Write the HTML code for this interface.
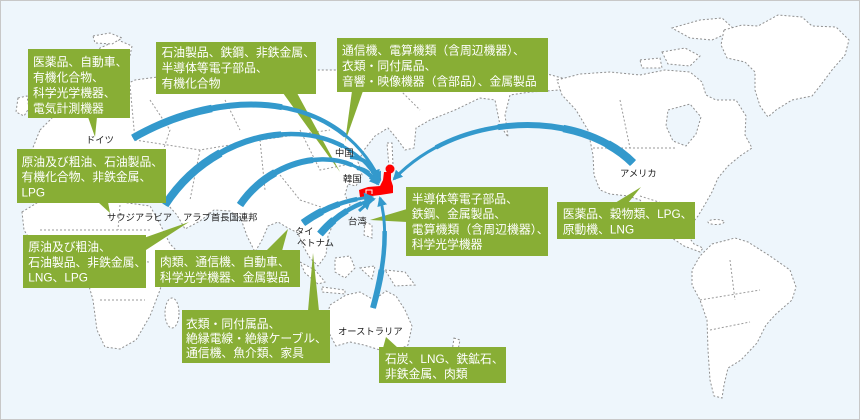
<!DOCTYPE html>
<html><head><meta charset="utf-8">
<style>
html,body{margin:0;padding:0;background:#fff;}
body{width:860px;height:420px;overflow:hidden;}
svg{display:block;}
.land{fill:#fff;stroke:#8f8f8f;stroke-width:1;stroke-dasharray:2 2;}
.sea{fill:#eef6fc;stroke:#8f8f8f;stroke-width:1;stroke-dasharray:2 2;}
.bd{fill:none;stroke:#9a9a9a;stroke-width:1;stroke-dasharray:2 2;}
.a{fill:none;stroke:#3399cc;stroke-linecap:butt;}
.g{fill:#88ae35;}
.bt{font-family:"Liberation Sans","Noto Sans CJK JP",sans-serif;font-size:11.8px;fill:#fff;}
.lb{font-family:"Liberation Sans","Noto Sans CJK JP",sans-serif;font-size:9.3px;fill:#222;}
</style></head>
<body>
<svg width="860" height="420" viewBox="0 0 860 420" xmlns="http://www.w3.org/2000/svg">
<defs>
<marker id="ah" viewBox="0 0 10 10" refX="8" refY="5" markerWidth="10" markerHeight="10" markerUnits="userSpaceOnUse" orient="auto">
<path d="M0,0 L10,5 L0,10 z" fill="#3399cc"/>
</marker>
</defs>
<rect x="0.5" y="0.5" width="859" height="419" fill="#eef6fc" stroke="#c8c8c8"/>

<!-- Land -->
<path class="land" d="M40,130 L55,115 L80,102 L110,92 L135,80 L180,74 L230,72 L290,70 L336,70 L400,70 L450,66 L500,70 L540,72 L562,78 L560,90 L530,92 L510,95 L505,115 L508,137 L500,125 L495,100 L480,98 L455,110 L430,120 L416,128 L414,148 L405,150 L398,140 L388,128 L375,136 L364,150 L358,162 L362,175 L356,186 L348,184 L345,195 L350,205 L344,215 L334,222 L328,236 L326,255 L318,266 L310,258 L303,246 L298,233 L288,228 L278,222 L268,226 L262,240 L255,252 L247,236 L241,219 L230,211 L214,210 L200,221 L185,229 L177,215 L168,205 L158,197 L143,194 L120,190 L95,186 L72,192 L50,200 L30,196 L24,176 L30,155 Z"/>
<path class="land" d="M88,70 L100,48 L118,40 L132,46 L128,65 L118,82 L105,92 L92,88 Z"/>
<path class="land" d="M18,98 L27,96 L29,108 L24,116 L16,112 Z"/>
<path class="land" d="M93,36 L110,33 L122,38 L112,44 L95,43 Z"/>
<path class="land" d="M22,212 L40,201 L70,199 L100,199 L128,203 L150,206 L160,224 L170,244 L176,250 L166,266 L160,290 L150,316 L136,340 L120,349 L105,347 L97,330 L93,300 L85,272 L70,259 L50,255 L34,246 L24,230 Z"/>
<ellipse class="land" cx="172" cy="313" rx="7" ry="15"/>
<path class="land" d="M300,262 L315,270 L325,282 L318,284 L305,273 Z"/>
<path class="land" d="M335,258 L350,256 L355,268 L345,278 L335,272 Z"/>
<path class="land" d="M322,287 L345,290 L345,294 L322,292 Z"/>
<path class="land" d="M360,268 L375,266 L372,279 Z"/>
<path class="land" d="M385,270 L405,272 L415,285 L395,286 Z"/>
<path class="land" d="M365,222 L372,225 L372,238 L364,235 Z"/>
<path class="land" d="M330,305 L346,295 L360,292 L374,300 L386,291 L396,296 L405,310 L412,326 L408,345 L395,352 L380,350 L364,345 L350,342 L336,346 L328,331 L327,316 Z"/>
<path class="land" d="M454,338 L460,340 L458,350 L452,352 Z"/>
<path class="land" d="M387,143 L392,143 L393,165 L389,167 Z"/>
<path class="land" d="M557,80 L580,74 L610,72 L640,75 L665,70 L690,72 L702,82 L706,95 L716,100 L736,100 L746,116 L745,135 L752,148 L740,156 L728,166 L718,178 L712,192 L704,206 L698,216 L690,226 L688,236 L694,244 L703,248 L700,252 L684,246 L672,238 L662,226 L650,212 L640,200 L628,196 L610,194 L600,190 L594,175 L593,155 L588,130 L576,110 L562,95 Z"/>
<path class="sea" d="M668,110 L690,104 L701,117 L696,134 L686,146 L673,141 L666,126 Z"/>
<path class="land" d="M662,52 L685,48 L700,56 L690,66 L668,64 Z"/>
<path class="land" d="M672,28 L700,20 L722,18 L735,30 L712,40 L690,38 Z"/>
<path class="land" d="M640,60 L660,58 L662,68 L642,68 Z"/>
<path class="land" d="M724,30 L742,25 L758,26 L778,15 L802,17 L812,26 L836,27 L849,40 L845,55 L832,70 L820,86 L812,96 L792,100 L776,110 L768,117 L760,106 L755,90 L755,72 L745,62 L727,58 L721,45 Z"/>
<ellipse class="land" cx="716" cy="222" rx="8" ry="2.5"/>
<path class="land" d="M712,244 L735,238 L748,242 L770,256 L790,270 L796,287 L792,300 L776,314 L766,325 L757,343 L741,360 L728,368 L724,385 L722,398 L714,396 L710,380 L708,350 L707,320 L700,300 L692,285 L692,270 L700,256 Z"/>

<!-- internal borders -->
<path class="bd" d="M130,85 L135,140 M135,140 L200,150 L260,140 L330,130 M260,140 L265,190 M200,150 L190,200 M300,130 L320,170 L345,165 M280,175 L300,200 L330,210 M150,100 L170,130 L160,160 M60,150 L100,160 L130,150 M225,100 L240,130 M400,90 L420,110"/>
<path class="bd" d="M40,230 L150,230 M95,260 L150,262 M100,300 L145,300 M120,205 L118,230"/>
<path class="bd" d="M593,148 L677,148 M640,196 L690,212 M620,100 L630,148 M700,300 L760,290 M710,330 L750,322 M730,260 L735,300"/>

<!-- Japan -->
<circle cx="390" cy="169" r="4.5" fill="#f00"/>
<path d="M384,172 L391,172 L391,180 L393,186 L393,193 L380,195 L372,196 L365,197 L360,197 L359,190 L368,187 L380,186 L383,180 Z" fill="#f00"/>
<path d="M366,194 L366,190 L372,190 L372,194" fill="none" stroke="#fff" stroke-width="1"/>

<!-- tails -->
<polygon class="g" points="88,117 97,117 95,137"/>
<polygon class="g" points="283,93 297,93 340,172"/>
<polygon class="g" points="352,91 363,91 345,142"/>
<polygon class="g" points="98,202 108,202 110,213"/>
<polygon class="g" points="138,240 146,250 189,222"/>
<polygon class="g" points="266,251 282,251 288,229"/>
<polygon class="g" points="308,311 319,311 313,253"/>
<polygon class="g" points="407,209 407,222 370,220"/>
<polygon class="g" points="615,203 628,203 641,187"/>
<polygon class="g" points="383,348 398,348 386,337"/>

<!-- arrows -->
<g>
<path class="a" d="M133,138 C220,88 335,88 380,180" pathLength="100" stroke-width="3" marker-end="url(#ah)"/>
<path class="a" d="M133,138 C220,88 335,88 380,180" pathLength="100" stroke-width="4.5" stroke-dasharray="80 200"/>
<path class="a" d="M133,138 C220,88 335,88 380,180" pathLength="100" stroke-width="6" stroke-dasharray="55 200"/>
<path class="a" d="M133,138 C220,88 335,88 380,180" pathLength="100" stroke-width="7.5" stroke-dasharray="30 200"/>

<path class="a" d="M165,205 C220,120 340,110 379,182" pathLength="100" stroke-width="3" marker-end="url(#ah)"/>
<path class="a" d="M165,205 C220,120 340,110 379,182" pathLength="100" stroke-width="4.5" stroke-dasharray="80 200"/>
<path class="a" d="M165,205 C220,120 340,110 379,182" pathLength="100" stroke-width="6" stroke-dasharray="55 200"/>
<path class="a" d="M165,205 C220,120 340,110 379,182" pathLength="100" stroke-width="8" stroke-dasharray="30 200"/>

<path class="a" d="M240,205 C270,160 340,140 378,184" pathLength="100" stroke-width="3" marker-end="url(#ah)"/>
<path class="a" d="M240,205 C270,160 340,140 378,184" pathLength="100" stroke-width="4.5" stroke-dasharray="80 200"/>
<path class="a" d="M240,205 C270,160 340,140 378,184" pathLength="100" stroke-width="6" stroke-dasharray="55 200"/>
<path class="a" d="M240,205 C270,160 340,140 378,184" pathLength="100" stroke-width="7.5" stroke-dasharray="30 200"/>

<path class="a" d="M350,157 Q370,158 378,178" pathLength="100" stroke-width="2.5" marker-end="url(#ah)"/>
<path class="a" d="M350,157 Q370,158 378,178" pathLength="100" stroke-width="4" stroke-dasharray="50 200"/>

<path class="a" d="M357,168 Q370,170 377,183" pathLength="100" stroke-width="2.5" marker-end="url(#ah)"/>
<path class="a" d="M357,168 Q370,170 377,183" pathLength="100" stroke-width="4" stroke-dasharray="50 200"/>

<path class="a" d="M633,163 C580,110 460,110 394,179" pathLength="100" stroke-width="3" marker-end="url(#ah)"/>
<path class="a" d="M633,163 C580,110 460,110 394,179" pathLength="100" stroke-width="4.5" stroke-dasharray="80 200"/>
<path class="a" d="M633,163 C580,110 460,110 394,179" pathLength="100" stroke-width="6" stroke-dasharray="55 200"/>
<path class="a" d="M633,163 C580,110 460,110 394,179" pathLength="100" stroke-width="7.5" stroke-dasharray="30 200"/>
<path class="a" d="M633,163 C580,110 460,110 394,179" pathLength="100" stroke-width="8.5" stroke-dasharray="12 200"/>

<path class="a" d="M303,223 Q335,200 372,197" pathLength="100" stroke-width="3" marker-end="url(#ah)"/>
<path class="a" d="M303,223 Q335,200 372,197" pathLength="100" stroke-width="4.5" stroke-dasharray="80 200"/>
<path class="a" d="M303,223 Q335,200 372,197" pathLength="100" stroke-width="6" stroke-dasharray="55 200"/>
<path class="a" d="M303,223 Q335,200 372,197" pathLength="100" stroke-width="7.5" stroke-dasharray="30 200"/>

<path class="a" d="M320,234 Q342,208 374,199" pathLength="100" stroke-width="3" marker-end="url(#ah)"/>
<path class="a" d="M320,234 Q342,208 374,199" pathLength="100" stroke-width="4.5" stroke-dasharray="80 200"/>
<path class="a" d="M320,234 Q342,208 374,199" pathLength="100" stroke-width="6" stroke-dasharray="55 200"/>
<path class="a" d="M320,234 Q342,208 374,199" pathLength="100" stroke-width="7.5" stroke-dasharray="30 200"/>

<path class="a" d="M359,211 L370,201" pathLength="100" stroke-width="3" marker-end="url(#ah)"/>

<path class="a" d="M373,308 Q392,240 380,198" pathLength="100" stroke-width="3" marker-end="url(#ah)"/>
<path class="a" d="M373,308 Q392,240 380,198" pathLength="100" stroke-width="4.5" stroke-dasharray="70 200"/>
<path class="a" d="M373,308 Q392,240 380,198" pathLength="100" stroke-width="6" stroke-dasharray="35 200"/>
</g>

<!-- boxes -->
<rect class="g" x="28" y="49" width="102" height="69"/>
<rect class="g" x="156" y="42" width="160" height="52"/>
<rect class="g" x="337" y="38" width="211" height="54"/>
<rect class="g" x="17" y="149" width="149" height="54"/>
<rect class="g" x="23" y="235" width="123" height="53"/>
<rect class="g" x="155" y="250" width="145" height="37"/>
<rect class="g" x="182" y="310" width="148" height="53"/>
<rect class="g" x="406" y="187" width="142" height="69"/>
<rect class="g" x="557" y="202" width="138" height="37"/>
<rect class="g" x="379" y="347" width="127" height="36"/>

<!-- box text -->
<g class="bt">
<text x="33" y="66.2">医薬品、自動車、</text>
<text x="33" y="81.7">有機化合物、</text>
<text x="33" y="97.2">科学光学機器、</text>
<text x="33" y="112.7">電気計測機器</text>

<text x="161.5" y="56.5">石油製品、鉄鋼、非鉄金属、</text>
<text x="161.5" y="72">半導体等電子部品、</text>
<text x="161.5" y="87.5">有機化合物</text>

<text x="342" y="54.5">通信機、電算機類（含周辺機器）、</text>
<text x="342" y="70">衣類・同付属品、</text>
<text x="342" y="85.5">音響・映像機器（含部品）、金属製品</text>

<text x="21.5" y="166">原油及び粗油、石油製品、</text>
<text x="21.5" y="181.2">有機化合物、非鉄金属、</text>
<text x="21.5" y="196.3">LPG</text>

<text x="28.3" y="251.2">原油及び粗油、</text>
<text x="28.3" y="266.4">石油製品、非鉄金属、</text>
<text x="28.3" y="281.7">LNG、LPG</text>

<text x="160" y="266.2">肉類、通信機、自動車、</text>
<text x="160" y="281.7">科学光学機器、金属製品</text>

<text x="186" y="327.8">衣類・同付属品、</text>
<text x="186" y="342.5">絶縁電線・絶縁ケーブル、</text>
<text x="186" y="357.2">通信機、魚介類、家具</text>

<text x="411.7" y="202.8">半導体等電子部品、</text>
<text x="411.7" y="218.1">鉄鋼、金属製品、</text>
<text x="411.7" y="233.4" textLength="137" lengthAdjust="spacingAndGlyphs">電算機類（含周辺機器）、</text>
<text x="411.7" y="248.7">科学光学機器</text>

<text x="562.7" y="217.8">医薬品、穀物類、LPG、</text>
<text x="562.7" y="233.5">原動機、LNG</text>

<text x="385" y="362.8">石炭、LNG、鉄鉱石、</text>
<text x="385" y="377.8">非鉄金属、肉類</text>
</g>

<!-- labels -->
<g class="lb">
<text x="86" y="143">ドイツ</text>
<text x="107" y="220.5">サウジアラビア</text>
<text x="183" y="220.5">アラブ首長国連邦</text>
<text x="295" y="234.5">タイ</text>
<text x="297" y="246">ベトナム</text>
<text x="335" y="156">中国</text>
<text x="343" y="182">韓国</text>
<text x="348" y="224.5">台湾</text>
<text x="338" y="334.5">オーストラリア</text>
<text x="620" y="176.5">アメリカ</text>
</g>
</svg>
</body></html>
